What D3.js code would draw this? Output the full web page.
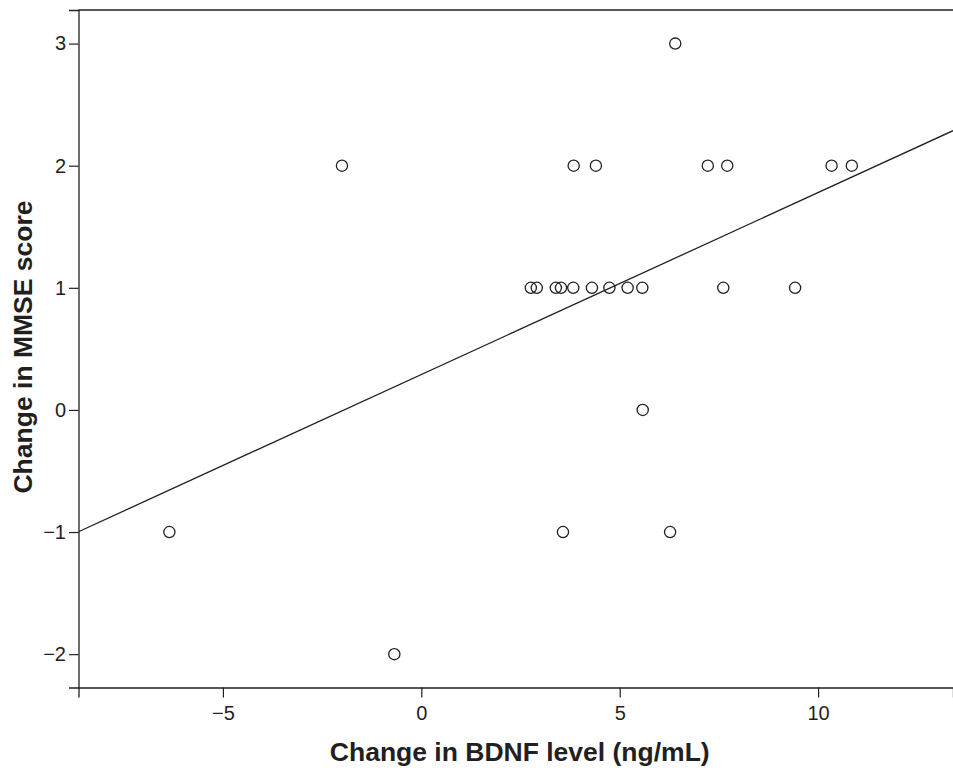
<!DOCTYPE html>
<html>
<head>
<meta charset="utf-8">
<script src="https://cdn.jsdelivr.net/npm/d3@7"></script>
<style>
  html, body { margin: 0; padding: 0; background: #fff; }
  svg { display: block; }
</style>
</head>
<body>
<svg id="chart" width="953" height="770"></svg>
<script>
// Data
const bdnfChange = [-6.35, -2.0, -0.68, 2.76, 2.91, 3.39, 3.52, 3.83, 4.30, 4.74, 5.20, 5.57, 7.61, 9.42, 5.58, 3.57, 6.27, 3.84, 4.40, 7.22, 7.71, 10.34, 10.85, 6.40];
const mmseChange = [-1, 2, -2, 1, 1, 1, 1, 1, 1, 1, 1, 1, 1, 1, 0, -1, -1, 2, 2, 2, 2, 2, 2, 3];
const fitLine = { intercept: 0.29, slope: 0.149 };
const xTicks = [-5, 0, 5, 10];
const yTicks = [-2, -1, 0, 1, 2, 3];
const xDomain = [-8.64, 13.40];
const yDomain = [-2.273, 3.275];

(function () {
const svg = d3.select("#chart");
const pLeft = 78.5, pRight = 953, pTop = 10, pBottom = 687.5;

const x = d3.scaleLinear().domain(xDomain).range([pLeft, pRight]);
const y = d3.scaleLinear().domain(yDomain).range([pBottom, pTop]);

const font = "'Liberation Sans', Arial, Helvetica, sans-serif";
const ink = "#231f20";

// frame: top line
svg.append("line")
  .attr("x1", pLeft).attr("x2", pRight).attr("y1", pTop).attr("y2", pTop)
  .attr("stroke", ink).attr("stroke-width", 1.3);

// x axis
const xAxis = svg.append("g")
  .attr("transform", `translate(0,${pBottom})`)
  .call(d3.axisBottom(x).tickValues(xTicks).tickSize(10).tickPadding(8)
        .tickFormat(d => d < 0 ? "\u2212" + Math.abs(d) : d));
xAxis.select(".domain").attr("stroke", ink).attr("stroke-width", 1.3);
xAxis.selectAll(".tick line").attr("stroke", ink).attr("stroke-width", 1.2);
xAxis.selectAll(".tick text").attr("font-family", font).attr("font-size", 20).attr("fill", ink);

// y axis
const yAxis = svg.append("g")
  .attr("transform", `translate(${pLeft},0)`)
  .call(d3.axisLeft(y).tickValues(yTicks).tickSize(9.5).tickPadding(3)
        .tickFormat(d => d < 0 ? "\u2212" + Math.abs(d) : d));
yAxis.select(".domain").attr("stroke", ink).attr("stroke-width", 1.3);
yAxis.selectAll(".tick line").attr("stroke", ink).attr("stroke-width", 1.2);
yAxis.selectAll(".tick text").attr("font-family", font).attr("font-size", 20).attr("fill", ink);

// regression line
svg.append("clipPath").attr("id", "plotclip")
  .append("rect").attr("x", pLeft).attr("y", pTop).attr("width", pRight - pLeft).attr("height", pBottom - pTop);
const lineGen = d3.line().x(d => x(d)).y(d => y(fitLine.intercept + fitLine.slope * d));
svg.append("path")
  .datum(xDomain)
  .attr("d", lineGen)
  .attr("fill", "none")
  .attr("stroke", ink)
  .attr("stroke-width", 1.3)
  .attr("clip-path", "url(#plotclip)");

// points
const pts = bdnfChange.map((v, i) => ({ x: v, y: mmseChange[i] }));
svg.append("g").selectAll("circle")
  .data(pts)
  .join("circle")
  .attr("cx", d => x(d.x))
  .attr("cy", d => y(d.y))
  .attr("r", 5.6)
  .attr("fill", "none")
  .attr("stroke", ink)
  .attr("stroke-width", 1.3);

// axis titles
svg.append("text")
  .attr("x", (pLeft + pRight) / 2 + 4).attr("y", 761)
  .attr("text-anchor", "middle")
  .attr("font-family", font).attr("font-weight", "bold").attr("font-size", 26.5)
  .attr("fill", ink)
  .text("Change in BDNF level (ng/mL)");

svg.append("text")
  .attr("transform", "translate(32,347) rotate(-90)")
  .attr("text-anchor", "middle")
  .attr("font-family", font).attr("font-weight", "bold").attr("font-size", 26.5)
  .attr("fill", ink)
  .text("Change in MMSE score");
})();
</script>
</body>
</html>
